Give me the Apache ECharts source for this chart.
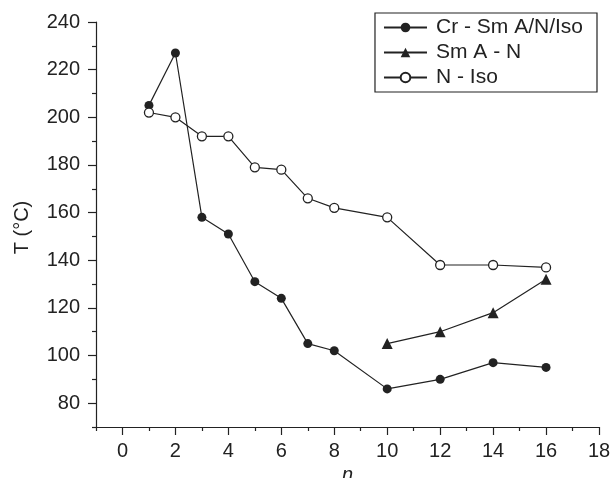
<!DOCTYPE html>
<html>
<head>
<meta charset="utf-8">
<script src="https://cdn.jsdelivr.net/npm/echarts@6/dist/echarts.min.js"></script>
<style>
  html, body { margin: 0; padding: 0; background: #fff; }
  #chart { width: 611px; height: 478px; }
</style>
</head>
<body>
<div id="chart"></div>
<script>
// data
const nAll = [1, 2, 3, 4, 5, 6, 7, 8, 10, 12, 14, 16];
const crSmT = [205, 227, 158, 151, 131, 124, 105, 102, 86, 90, 97, 95];
const nIsoT = [202, 200, 192, 192, 179, 178, 166, 162, 158, 138, 138, 137];
const smANn = [10, 12, 14, 16];
const smANT = [105, 110, 118, 132];

const xMajor = [0, 2, 4, 6, 8, 10, 12, 14, 16, 18];
const xMinor = [-1, 1, 3, 5, 7, 9, 11, 13, 15, 17];
const yMajor = [80, 100, 120, 140, 160, 180, 200, 220, 240];
const yMinor = [70, 90, 110, 130, 150, 170, 190, 210, 230];

const ink = '#222';
const font = 'Liberation Sans, Arial, Helvetica, sans-serif';

const zip = (xs, ys) => xs.map((x, i) => [x, ys[i]]);

const chart = echarts.init(document.getElementById('chart'));

// two axes per direction: one for the long (labelled) ticks, one for the short ones
const baseX = {
  type: 'value', min: -1, max: 18, position: 'bottom',
  splitLine: { show: false }
};
const baseY = {
  type: 'value', min: 70, max: 240, position: 'left',
  splitLine: { show: false }
};

const option = {
  animation: false,
  backgroundColor: '#fff',
  grid: { left: 96, right: 12, top: 22, bottom: 51, outerBoundsMode: 'none', containLabel: false },
  xAxis: [
    Object.assign({}, baseX, {
      name: 'n',
      nameLocation: 'middle',
      nameGap: 31,
      nameTextStyle: { fontFamily: font, fontSize: 20, fontStyle: 'italic', color: ink },
      axisLine: { onZero: false, lineStyle: { color: ink, width: 1.2 } },
      axisTick: { customValues: xMajor, length: 8, lineStyle: { color: ink, width: 1.2 } },
      axisLabel: { customValues: xMajor, margin: 14, fontFamily: font, fontSize: 20, color: ink }
    }),
    Object.assign({}, baseX, {
      axisLine: { show: false, onZero: false },
      axisTick: { customValues: xMinor, length: 4, lineStyle: { color: ink, width: 1.2 } },
      axisLabel: { show: false }
    })
  ],
  yAxis: [
    Object.assign({}, baseY, {
      name: 'T (°C)',
      nameLocation: 'middle',
      nameGap: 64,
      nameTextStyle: { fontFamily: font, fontSize: 20, color: ink, padding: [0, 6, 0, 0] },
      axisLine: { onZero: false, lineStyle: { color: ink, width: 1.2 } },
      axisTick: { customValues: yMajor, length: 8, lineStyle: { color: ink, width: 1.2 } },
      axisLabel: { customValues: yMajor, margin: 16, fontFamily: font, fontSize: 20, color: ink }
    }),
    Object.assign({}, baseY, {
      axisLine: { show: false, onZero: false },
      axisTick: { customValues: yMinor, length: 4, lineStyle: { color: ink, width: 1.2 } },
      axisLabel: { show: false }
    })
  ],
  legend: {
    orient: 'vertical',
    right: 14,
    top: 13,
    padding: [4, 14, 4, 8],
    itemGap: 4,
    itemWidth: 43,
    itemHeight: 12,
    borderColor: ink,
    borderWidth: 1.2,
    borderRadius: 0,
    textStyle: { fontFamily: font, fontSize: 21, color: ink, padding: [0, 0, 0, 4] },
    data: ['Cr - Sm A/N/Iso', 'Sm A - N', 'N - Iso']
  },
  series: [
    {
      name: 'Cr - Sm A/N/Iso', type: 'line',
      data: zip(nAll, crSmT),
      symbol: 'circle', symbolSize: 9,
      lineStyle: { color: ink, width: 1.2 },
      itemStyle: { color: ink, borderColor: ink, borderWidth: 0 }
    },
    {
      name: 'Sm A - N', type: 'line',
      data: zip(smANn, smANT),
      symbol: 'triangle', symbolSize: 11,
      lineStyle: { color: ink, width: 1.2 },
      itemStyle: { color: ink, borderColor: ink, borderWidth: 0 }
    },
    {
      name: 'N - Iso', type: 'line',
      data: zip(nAll, nIsoT),
      symbol: 'circle', symbolSize: 9,
      lineStyle: { color: ink, width: 1.2 },
      itemStyle: { color: '#fff', borderColor: ink, borderWidth: 1.3 }
    }
  ]
};

chart.setOption(option);
</script>
</body>
</html>
